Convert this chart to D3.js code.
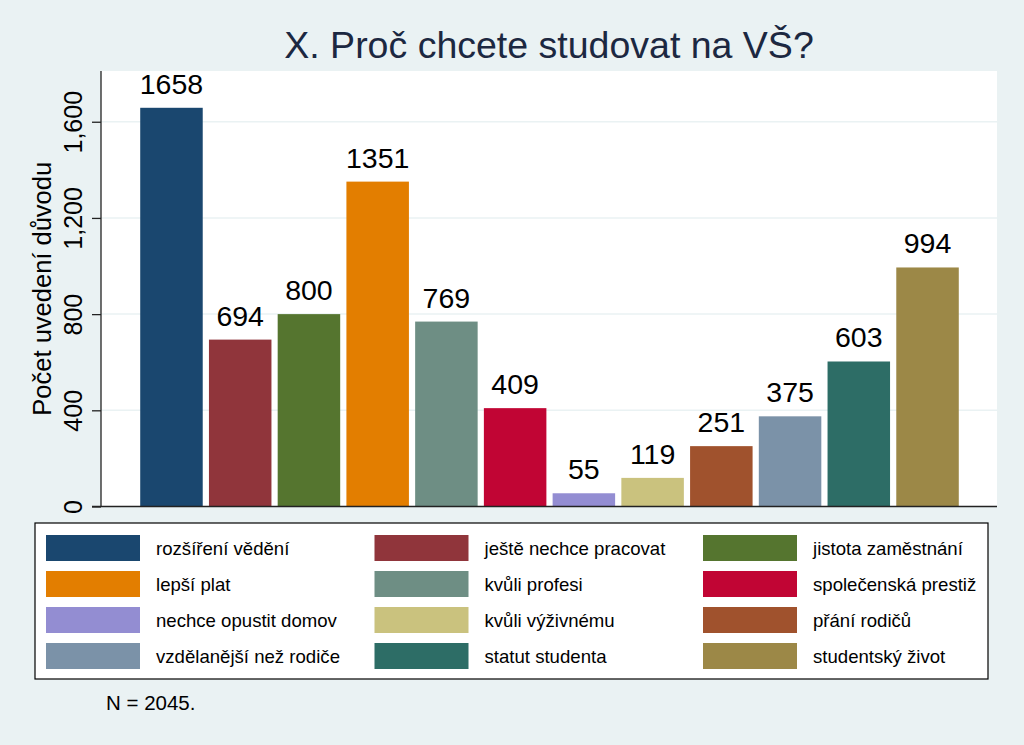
<!DOCTYPE html>
<html>
<head>
<meta charset="utf-8">
<script src="https://cdn.jsdelivr.net/npm/d3@7"></script>
<style>
  body { margin: 0; padding: 0; background: #eaf2f3; }
  svg { display: block; font-family: 'Liberation Sans', Arial, sans-serif; }
</style>
</head>
<body>
<div id="chart"></div>
<script>
// data
const categories = [
  'rozšíření vědění', 'ještě nechce pracovat', 'jistota zaměstnání',
  'lepší plat', 'kvůli profesi', 'společenská prestiž',
  'nechce opustit domov', 'kvůli výživnému', 'přání rodičů',
  'vzdělanější než rodiče', 'statut studenta', 'studentský život'
]
const counts = [1658, 694, 800, 1351, 769, 409, 55, 119, 251, 375, 603, 994]
const barColors = [
  '#1a476f', '#90353b', '#55752f', '#e37e00', '#6e8e84', '#c10534',
  '#938dd2', '#cac27e', '#a0522d', '#7b92a8', '#2d6d66', '#9c8847'
]
const yTicks = [0, 400, 800, 1200, 1600]
const titleText = 'X. Proč chcete studovat na VŠ?'
const yTitle = 'Počet uvedení důvodu'
const noteText = 'N = 2045.'

const width = 1024
const height = 745
const plot = {left: 101, right: 997, top: 71, bottom: 506.5}

const svg = d3.select('#chart').append('svg')
  .attr('width', width)
  .attr('height', height)

svg.append('rect')
  .attr('width', width).attr('height', height)
  .attr('fill', '#eaf2f3')

// plot region
svg.append('rect')
  .attr('x', plot.left).attr('y', plot.top)
  .attr('width', plot.right - plot.left)
  .attr('height', plot.bottom - plot.top)
  .attr('fill', '#ffffff')

const x = d3.scaleBand()
  .domain(categories)
  .range([plot.left + 1, plot.right])
  .paddingInner(0.0906)
  .paddingOuter(0.556)

const y = d3.scaleLinear()
  .domain([0, 1811])
  .range([plot.bottom, plot.top])

// gridlines
svg.append('g')
  .selectAll('line')
  .data(yTicks.filter(d => d > 0))
  .enter()
  .append('line')
  .attr('x1', plot.left)
  .attr('x2', plot.right)
  .attr('y1', d => y(d))
  .attr('y2', d => y(d))
  .attr('stroke', '#eaf2f3')
  .attr('stroke-width', 1.5)

// bars
svg.append('g')
  .selectAll('rect')
  .data(counts)
  .enter()
  .append('rect')
  .attr('x', (d, i) => x(categories[i]))
  .attr('y', d => y(d))
  .attr('width', x.bandwidth())
  .attr('height', d => y(0) - y(d))
  .attr('fill', (d, i) => barColors[i])

// value labels
svg.append('g')
  .selectAll('text')
  .data(counts)
  .enter()
  .append('text')
  .attr('x', (d, i) => x(categories[i]) + x.bandwidth() / 2)
  .attr('y', d => y(d) - 14)
  .attr('text-anchor', 'middle')
  .style('font-size', '28.5px')
  .attr('fill', '#000')
  .text(d => d)

// y axis
const yAxis = d3.axisLeft(y)
  .tickValues(yTicks)
  .tickSize(9)
  .tickPadding(9)
  .tickFormat(d3.format(','))

const yg = svg.append('g')
  .attr('transform', `translate(${plot.left}, 0)`)
  .call(yAxis)

yg.select('.domain')
  .attr('d', `M0,${plot.top}V${plot.bottom}`)
  .attr('stroke', '#222')
  .attr('stroke-width', 1.3)
yg.selectAll('.tick line').attr('stroke', '#222').attr('stroke-width', 1.3)
yg.selectAll('.tick text')
  .attr('x', null).attr('dy', null)
  .attr('transform', 'translate(-19, 0) rotate(-90)')
  .attr('text-anchor', 'middle')
  .attr('fill', '#000')
  .style('font-size', '25px')
  .style('font-family', "'Liberation Sans', Arial, sans-serif")

// x axis line
svg.append('line')
  .attr('x1', plot.left - 9)
  .attr('x2', plot.right)
  .attr('y1', plot.bottom)
  .attr('y2', plot.bottom)
  .attr('stroke', '#222')
  .attr('stroke-width', 1.3)

// y title
svg.append('text')
  .attr('transform', `translate(51, ${(plot.top + plot.bottom) / 2}) rotate(-90)`)
  .attr('text-anchor', 'middle')
  .style('font-size', '25.5px')
  .attr('fill', '#000')
  .text(yTitle)

// title
svg.append('text')
  .attr('x', (plot.left + plot.right) / 2)
  .attr('y', 58)
  .attr('text-anchor', 'middle')
  .style('font-size', '37.5px')
  .attr('fill', '#1c2841')
  .text(titleText)

// legend
const legend = {left: 35, top: 523, width: 953, height: 156}
svg.append('rect')
  .attr('x', legend.left).attr('y', legend.top)
  .attr('width', legend.width).attr('height', legend.height)
  .attr('fill', '#fff')
  .attr('stroke', '#000')
  .attr('stroke-width', 1.2)

const item = svg.append('g')
  .selectAll('g')
  .data(categories)
  .enter()
  .append('g')
  .attr('transform', (d, i) => `translate(${46 + (i % 3) * 328.5}, ${535 + Math.floor(i / 3) * 36})`)

item.append('rect')
  .attr('width', 94)
  .attr('height', 26)
  .attr('fill', (d, i) => barColors[i])

item.append('text')
  .attr('x', 110)
  .attr('y', 13)
  .attr('dy', '0.35em')
  .style('font-size', '18.6px')
  .attr('fill', '#000')
  .text(d => d)

// note
svg.append('text')
  .attr('x', 106)
  .attr('y', 710)
  .style('font-size', '20.5px')
  .attr('fill', '#000')
  .text(noteText)
</script>
</body>
</html>
